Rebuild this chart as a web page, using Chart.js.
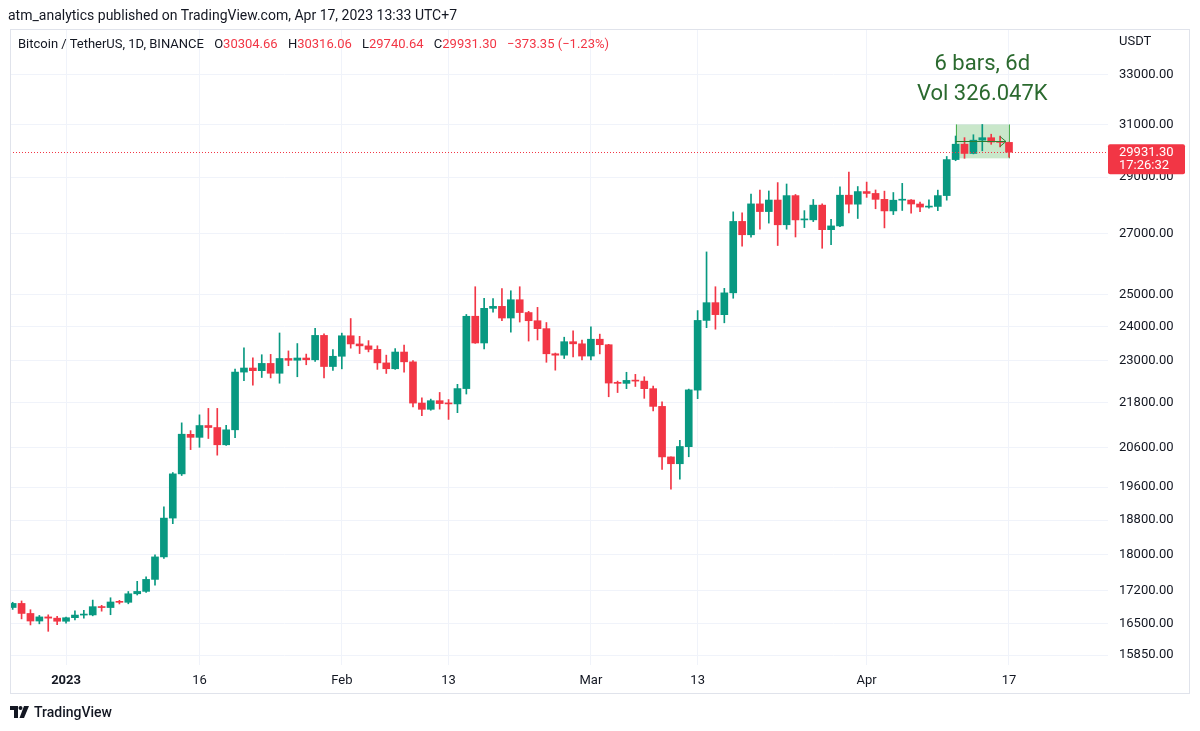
<!DOCTYPE html>
<html>
<head>
<meta charset="utf-8">
<script src="https://cdn.jsdelivr.net/npm/chart.js@4/dist/chart.umd.min.js"></script>
<style>
  html, body { margin: 0; padding: 0; background: #fff; }
  body { width: 1200px; height: 731px; position: relative; overflow: hidden;
         font-family: Roboto, 'Liberation Sans', sans-serif; color: #131722; }
  #chart { position: absolute; left: 0; top: 0; }
  .frame { position: absolute; left: 10px; top: 29px; width: 1178px; height: 663px;
           border: 1px solid #e0e3eb; pointer-events: none; }
  .pub { position: absolute; left: 8px; top: 7px; font-size: 14px; white-space: nowrap; }
  .sym { position: absolute; left: 18px; top: 36px; font-size: 13px; white-space: nowrap; }
  .sym b { font-weight: normal; margin-left: 7px; }
  .red { color: #f23645; }
  .foot { position: absolute; left: 10px; top: 704px; font-size: 14px; font-weight: 500;
          display: flex; align-items: center; gap: 4px; }
</style>
</head>
<body>
<canvas id="chart" width="1200" height="731"></canvas>
<div class="frame"></div>
<div class="pub">atm_analytics published on TradingView.com, Apr 17, 2023 13:33 UTC+7</div>
<div class="sym">Bitcoin / TetherUS, 1D, BINANCE <b>O<span class="red">30304.66</span></b> <b>H<span class="red">30316.06</span></b> <b>L<span class="red">29740.64</span></b> <b>C<span class="red">29931.30</span></b> <b class="red">−373.35 (−1.23%)</b></div>
<div class="foot">
  <svg width="20" height="12" viewBox="0 0 20 12"><path d="M0 0H8V12H4V4H0Z" fill="#131722"/><circle cx="10.5" cy="2" r="2" fill="#131722"/><path d="M14 0H19L14 12H9.5Z" fill="#131722"/></svg>
  <span>TradingView</span>
</div>
<script>
'use strict';

// daily candles, BTC/USDT Binance, one per day from firstDate
const firstDate = '2022-12-26';

const opens = [
  16832, 16919, 16706, 16547, 16633, 16607,
  16542, 16617, 16672, 16675, 16850, 16831, 16950, 16943, 17127, 17179, 17441, 17944, 18847, 19930, 20952, 20872,
  21186, 21133, 20677, 21072, 22667, 22784, 22707, 22917, 22633, 23060, 23009, 23074, 23022, 23743, 22827,
  23125, 23732, 23488, 23431, 23327, 22932, 22763, 23249, 22962, 21797, 21625, 21862, 21782, 21773, 22199, 24325,
  23517, 24569, 24631, 24271, 24838, 24439, 24188, 23947, 23198, 23157, 23555, 23492,
  23131, 23629, 23465, 22355, 22346, 22430, 22410, 22197, 21705, 20362, 20187, 20628, 22156, 24197, 24747, 24373,
  25056, 27424, 26965, 28038, 27767, 28175, 27308, 28333, 27476, 27478, 27994, 27139, 27268, 28348, 28028,
  28478, 28411, 28199, 27790, 28169, 28175, 28034, 27925, 27948, 28334, 29653, 30235, 29884, 30390, 30485, 30318, 30304.66
];
const highs = [
  16944, 16972, 16785, 16664, 16677, 16644,
  16628, 16759, 16773, 16991, 16879, 17041, 16985, 17176, 17398, 17499, 17994, 19117, 19964, 21258, 21050, 21474,
  21650, 21650, 21192, 22755, 23371, 23078, 23170, 23180, 23816, 23282, 23500, 23189, 23960, 23789, 23320,
  23812, 24255, 23715, 23587, 23433, 23158, 23350, 23452, 22998, 21938, 21906, 22091, 21894, 22319, 24380, 25250,
  24879, 24877, 25192, 25121, 25250, 24476, 24600, 24133, 23219, 23689, 23880, 23600,
  24000, 23781, 23476, 22410, 22662, 22602, 22534, 22267, 21834, 20367, 20792, 22185, 24500, 26386, 25250, 25198,
  27757, 27725, 28390, 28528, 28500, 28803, 28752, 28374, 27800, 28194, 28040, 27500, 28650, 29184, 28660,
  28822, 28536, 28494, 28444, 28775, 28190, 28100, 28180, 28530, 29770, 30550, 30487, 30600, 31000, 30620, 30549, 30316.06
];
const lows = [
  16791, 16592, 16465, 16488, 16333, 16470,
  16500, 16572, 16606, 16656, 16754, 16679, 16908, 16911, 17100, 17157, 17315, 17911, 18714, 19889, 20551, 20611,
  20841, 20407, 20659, 20862, 22422, 22292, 22513, 22500, 22350, 22850, 22534, 22878, 22977, 22500, 22715,
  22760, 23363, 23204, 23253, 22745, 22628, 22745, 22665, 21688, 21451, 21599, 21630, 21351, 21533, 22047, 23505,
  23339, 24450, 24192, 23841, 24148, 23574, 23608, 22950, 22722, 23059, 23106, 23020,
  23020, 23195, 21971, 22088, 22198, 22258, 21927, 21580, 20042, 19549, 19800, 20366, 21918, 23976, 23930, 24124,
  24885, 26578, 26880, 27156, 27365, 26601, 27155, 26889, 27210, 27418, 26508, 26631, 27243, 27720, 27525,
  28270, 27866, 27200, 27662, 27805, 27711, 27766, 27883, 27800, 28170, 29610, 29700, 29868, 29984, 30230, 30135, 29740.64
];
const closes = [
  16919, 16706, 16547, 16633, 16607, 16542,
  16616, 16672, 16675, 16850, 16831, 16950, 16943, 17127, 17178, 17441, 17944, 18846, 19930, 20955, 20872, 21186,
  21133, 20677, 21072, 22667, 22784, 22708, 22917, 22633, 23060, 23009, 23074, 23022, 23743, 22827, 23125,
  23732, 23488, 23431, 23327, 22933, 22763, 23249, 22963, 21796, 21625, 21862, 21783, 21773, 22199, 24324, 23517,
  24569, 24631, 24271, 24838, 24439, 24188, 23947, 23198, 23157, 23555, 23492, 23131,
  23629, 23465, 22355, 22346, 22430, 22410, 22197, 21705, 20362, 20187, 20632, 22163, 24197, 24746, 24375, 25055,
  27423, 26965, 28038, 27767, 28175, 27307, 28333, 27476, 27478, 27994, 27139, 27268, 28348, 28028, 28478,
  28411, 28199, 27790, 28169, 28175, 28034, 27925, 27947, 28333, 29653, 30235, 29884, 30390, 30485, 30319, 30305, 29931.30
];

const priceTicks = [15850, 16500, 17200, 18000, 18800, 19600, 20600, 21800, 23000, 24000, 25000, 27000, 29000, 31000, 33000];
const dateTicks = ['2023-01-01', '2023-01-16', '2023-02-01', '2023-02-13', '2023-03-01', '2023-03-13', '2023-04-01', '2023-04-17'];
const dateTickLabels = ['2023', '16', 'Feb', '13', 'Mar', '13', 'Apr', '17'];

// measure tool (date range) drawn on the chart
const rangeStart = '2023-04-11';
const rangeEnd = '2023-04-17';
const rangeHigh = 31000;
const rangeLow = 29700;
const rangeText = ['6 bars, 6d', 'Vol 326.047K'];
const lastPrice = 29931.30;
const countdown = '17:26:32';

const UP = '#089981', DOWN = '#f23645';

function dayOf(s) {
  return (Date.parse(s) - Date.parse('2023-01-01')) / 86400000;
}
const d0 = dayOf(firstDate);
const colors = closes.map((c, i) => c >= opens[i] ? UP : DOWN);
const tickDays = dateTicks.map(dayOf);

const overlay = {
  id: 'overlay',
  beforeDatasetsDraw(chart) {
    const {ctx, scales: {x, y}} = chart;
    const x0 = x.getPixelForValue(dayOf(rangeStart)), x1 = x.getPixelForValue(dayOf(rangeEnd));
    const y0 = y.getPixelForValue(rangeHigh), y1 = y.getPixelForValue(rangeLow);
    ctx.save();
    ctx.fillStyle = 'rgba(76,175,80,0.3)';
    ctx.fillRect(x0, y0, x1 - x0, y1 - y0);
    ctx.strokeStyle = '#4caf50';
    ctx.lineWidth = 1;
    ctx.beginPath();
    ctx.moveTo(Math.round(x0) + 0.5, y0); ctx.lineTo(Math.round(x0) + 0.5, y1);
    ctx.moveTo(Math.round(x1) + 0.5, y0); ctx.lineTo(Math.round(x1) + 0.5, y1);
    ctx.stroke();
    ctx.restore();
  },
  afterDatasetsDraw(chart) {
    const {ctx, chartArea: a, scales: {x, y}} = chart;
    ctx.save();
    // last price line
    const py = Math.round(y.getPixelForValue(lastPrice)) + 0.5;
    ctx.strokeStyle = DOWN;
    ctx.lineWidth = 1;
    ctx.setLineDash([1, 2]);
    ctx.beginPath(); ctx.moveTo(a.left, py); ctx.lineTo(a.right, py); ctx.stroke();
    ctx.setLineDash([]);
    // measure arrow
    const x0 = x.getPixelForValue(dayOf(rangeStart)), x1 = x.getPixelForValue(dayOf(rangeEnd));
    const my = Math.round((y.getPixelForValue(rangeHigh) + y.getPixelForValue(rangeLow)) / 2) + 0.5;
    ctx.strokeStyle = '#2e7d32';
    ctx.beginPath();
    ctx.moveTo(x0, my); ctx.lineTo(x1 - 3, my);
    ctx.moveTo(x1 - 9, my - 5); ctx.lineTo(x1 - 3, my); ctx.lineTo(x1 - 9, my + 5);
    ctx.stroke();
    ctx.restore();
  },
  afterDraw(chart) {
    const {ctx, scales: {x, y}} = chart;
    ctx.save();
    // price label on the axis
    const py = y.getPixelForValue(lastPrice);
    ctx.fillStyle = DOWN;
    ctx.beginPath();
    ctx.roundRect(y.left, py - 8, 77, 30, 2);
    ctx.fill();
    ctx.fillStyle = '#fff';
    ctx.font = '13px Roboto';
    ctx.textBaseline = 'middle';
    ctx.fillText(lastPrice.toFixed(2), y.left + 11, py + 0.5);
    ctx.fillText(countdown, y.left + 11, py + 14);
    // axis unit
    ctx.fillStyle = '#131722';
    ctx.fillText('USDT', y.left + 11, 42);
    // measure text
    const cx = (x.getPixelForValue(dayOf(rangeStart)) + x.getPixelForValue(dayOf(rangeEnd))) / 2;
    const ty = y.getPixelForValue(rangeHigh);
    ctx.fillStyle = '#2b6a2f';
    ctx.font = '22px Roboto';
    ctx.textAlign = 'center';
    ctx.fillText(rangeText[0], cx, ty - 60);
    ctx.fillText(rangeText[1], cx, ty - 30);
    ctx.restore();
  }
};

Chart.defaults.font.family = 'Roboto, "Liberation Sans", sans-serif';
Chart.defaults.font.size = 13;
Chart.defaults.color = '#131722';

new Chart(document.getElementById('chart'), {
  type: 'bar',
  data: {
    datasets: [
      {
        label: 'wick',
        data: highs.map((h, i) => ({x: d0 + i, y: [lows[i], h]})),
        backgroundColor: colors,
        barThickness: 1,
        grouped: false,
        order: 2
      },
      {
        label: 'body',
        data: closes.map((c, i) => ({x: d0 + i, y: [opens[i], c]})),
        backgroundColor: colors,
        barThickness: 7,
        minBarLength: 1,
        grouped: false,
        order: 1
      }
    ]
  },
  options: {
    responsive: false,
    animation: false,
    events: [],
    layout: {padding: {left: 10, top: 29, right: 0, bottom: 38}},
    plugins: {legend: {display: false}, tooltip: {enabled: false}},
    scales: {
      x: {
        type: 'linear',
        offset: false,
        bounds: 'data',
        min: -6.3,
        max: 117.13,
        afterBuildTicks: s => { s.ticks = tickDays.map(v => ({value: v})); },
        afterFit: s => { s.height = 28; },
        grid: {color: '#f0f3fa', drawTicks: false, offset: false},
        border: {display: false},
        ticks: {
          autoSkip: false,
          maxRotation: 0,
          padding: 8,
          callback: v => dateTickLabels[tickDays.indexOf(v)],
          font: c => ({weight: c.tick && c.tick.value === 0 ? 'bold' : 'normal'})
        }
      },
      y: {
        type: 'logarithmic',
        position: 'right',
        bounds: 'data',
        min: 15652,
        max: 34976,
        afterBuildTicks: s => { s.ticks = priceTicks.map(v => ({value: v})); },
        afterFit: s => { s.width = 92; },
        grid: {color: '#f0f3fa', drawTicks: false},
        border: {display: false},
        ticks: {
          autoSkip: false,
          padding: 11,
          crossAlign: 'near',
          callback: v => Number(v).toFixed(2)
        }
      }
    }
  },
  plugins: [overlay]
});
</script>
</body>
</html>
